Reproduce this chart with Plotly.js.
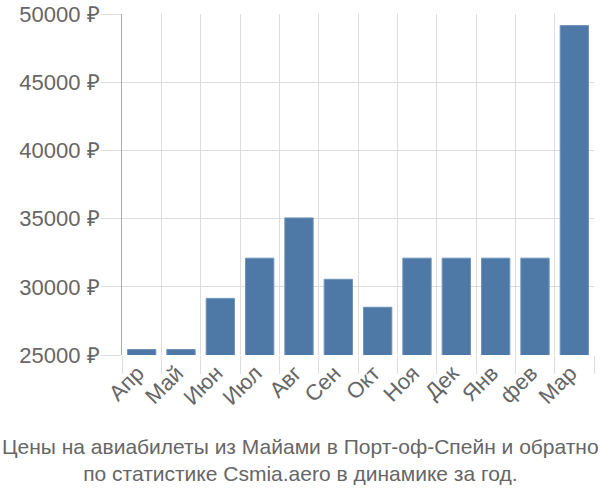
<!DOCTYPE html>
<html>
<head>
<meta charset="utf-8">
<script src="https://cdn.plot.ly/plotly-3.0.1.min.js"></script>
<style>html,body{margin:0;padding:0;background:#fff;}#chart{width:600px;height:500px;}</style>
</head>
<body>
<div id="chart"></div>
<script>
const months = ["Апр","Май","Июн","Июл","Авг","Сен","Окт","Ноя","Дек","Янв","фев","Мар"];
const prices = [25400, 25400, 29150, 32100, 35050, 30550, 28500, 32100, 32100, 32100, 32100, 49150];
const yTicks = [25000, 30000, 35000, 40000, 45000, 50000];
const yTickLabels = ["25000 ₽","30000 ₽","35000 ₽","40000 ₽","45000 ₽","50000 ₽"];
const titleLines = ["Цены на авиабилеты из Майами в Порт-оф-Спейн и обратно","по статистике Csmia.aero в динамике за год."];

const trace = {
  type: "bar",
  x: months,
  y: prices,
  marker: {color: "#4e78a6", line: {color: "#6f93bb", width: 1}},
  hoverinfo: "none"
};
const layout = {
  width: 600, height: 500,
  margin: {l: 122, r: 6, t: 14, b: 145},
  paper_bgcolor: "#fff", plot_bgcolor: "#fff",
  bargap: 0.28,
  showlegend: false,
  font: {family: "Liberation Sans, Arial, sans-serif", color: "#666"},
  xaxis: {
    type: "category",
    tickson: "boundaries",
    ticks: "outside", ticklen: 18, tickcolor: "#ddd", tickwidth: 1,
    ticklabelshift: -4,
    showgrid: true, gridcolor: "#ddd", gridwidth: 1,
    tickangle: -45,
    tickfont: {size: 22, color: "#666"},
    showline: false, zeroline: false,
    fixedrange: true
  },
  yaxis: {
    range: [25000, 50000],
    tickvals: yTicks, ticktext: yTickLabels,
    ticks: "outside", ticklen: 20, tickcolor: "#ddd", tickwidth: 1,
    ticklabelstandoff: -3,
    showgrid: true, gridcolor: "#ddd", gridwidth: 1,
    showline: true, linecolor: "#aaa", linewidth: 1,
    zeroline: false,
    tickfont: {size: 22, color: "#666"},
    fixedrange: true
  },
  annotations: [{
    xref: "paper", yref: "paper", x: (300 - 122) / 472, y: 0,
    xanchor: "center", yanchor: "top",
    yshift: -78,
    showarrow: false,
    align: "center",
    text: titleLines.join("<br>"),
    font: {family: "Liberation Sans Narrow, Arial Narrow, sans-serif", size: 21, color: "#666"}
  }]
};
Plotly.newPlot("chart", [trace], layout, {displayModeBar: false, staticPlot: true});
</script>
</body>
</html>
